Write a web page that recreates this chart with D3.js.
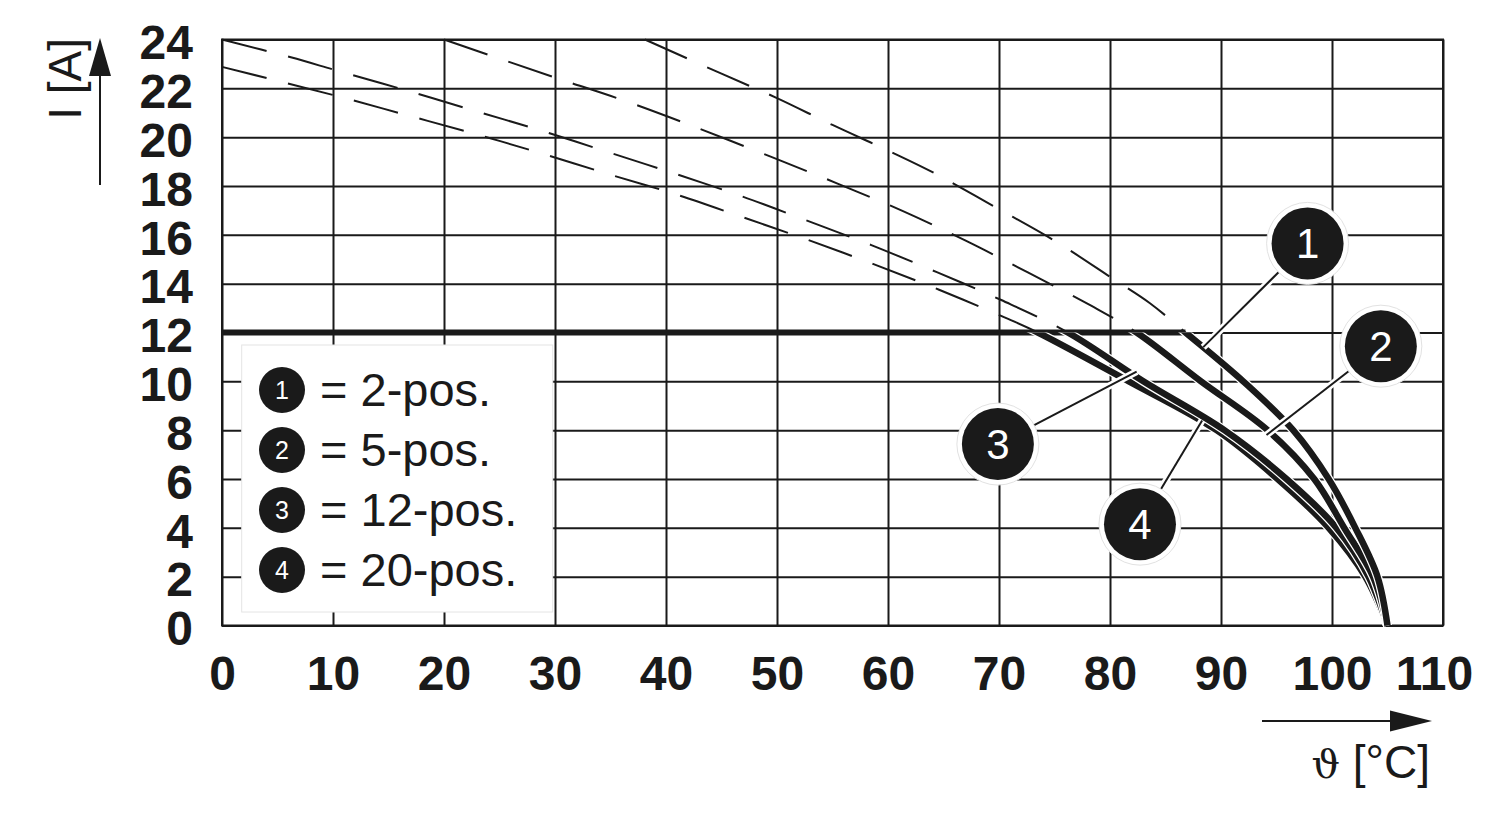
<!DOCTYPE html>
<html><head><meta charset="utf-8">
<script src="https://cdn.jsdelivr.net/npm/d3@7"></script>
<style>html,body{margin:0;padding:0;background:#fff;} svg{display:block;}</style>
</head><body>
<svg id="chart" width="1500" height="820"></svg>
<script>
// ---------- data ----------
const xTicks = [0, 10, 20, 30, 40, 50, 60, 70, 80, 90, 100, 110];
const yTicks = [0, 2, 4, 6, 8, 10, 12, 14, 16, 18, 20, 22, 24];
const ratedCurrent = 12;
const ratedLineEnd = 86.8;

// derating curves: [temperature °C, current A]
const curve1 = [[38.1,24],[45,22.6],[50,21.6],[55,20.5],[60,19.45],[64.2,18.52],[69.6,17.15],[75,15.76],[80.2,14.22],[83.6,13.2],[86.8,12],[92,10],[96.5,8],[99.7,6],[102.1,4],[104.1,2],[105,0]];
const curve2 = [[20,24],[29.8,22.47],[35.9,21.55],[41.8,20.56],[49.6,19.17],[55.4,18.11],[61.3,16.98],[67,15.76],[72.6,14.46],[78.3,13.1],[82.4,12],[88.2,10],[94.2,8],[98.4,6],[101.1,4],[103.7,2],[105,0]];
const curve3 = [[0,24],[6.2,23.27],[10.4,22.72],[16.5,21.93],[22.6,21.1],[28.6,20.29],[34.7,19.4],[40.7,18.52],[46.7,17.6],[52.6,16.6],[58.5,15.58],[64.4,14.47],[70.2,13.33],[76.2,12],[83,10],[90.3,8],[95.9,6],[100.4,4],[103.3,2],[105,0]];
const curve4 = [[0,22.88],[10.4,21.68],[16.5,20.92],[22.6,20.16],[28.6,19.36],[34.8,18.49],[40.8,17.67],[46.8,16.74],[52.8,15.79],[58.7,14.8],[64.6,13.75],[70.5,12.62],[73.5,12],[81.7,10],[89.6,8],[95.1,6],[99.7,4],[103,2],[105,0]];

const seriesIds = ["1", "2", "3", "4"];
const seriesNames = ["2-pos.", "5-pos.", "12-pos.", "20-pos."];
const calloutCircles = [[97.8,15.65],[104.4,11.44],[69.9,7.43],[82.7,4.15]];
const calloutTargets = [[88.4,11.4],[94.1,7.8],[82.4,10.4],[88.3,8.4]];

const yTitle = "I [A]";
const xTitleSymbol = "\u03D1";
const xTitleUnit = " [°C]";

// ---------- layout ----------
const W = 1500, H = 820;
const plot = {left: 222, right: 1443, top: 39.5, bottom: 625.5};
const ink = "#1a1a1a";
const fontFam = "'Liberation Sans', Arial, Helvetica, sans-serif";

const svg = d3.select("#chart");
svg.append("rect").attr("width", W).attr("height", H).attr("fill", "#fff");

const x = d3.scaleLinear().domain([0, 110]).range([plot.left, plot.right]);
const y = d3.scaleLinear().domain([0, 24]).range([plot.bottom, plot.top]);

const defs = svg.append("defs");
defs.append("clipPath").attr("id", "above").append("rect")
  .attr("x", x(0) - 5).attr("y", y(24) - 5)
  .attr("width", x(110) - x(0) + 10).attr("height", y(ratedCurrent) - y(24) + 5);
defs.append("clipPath").attr("id", "below").append("rect")
  .attr("x", x(0) - 5).attr("y", y(ratedCurrent))
  .attr("width", x(110) - x(0) + 40).attr("height", y(0) - y(ratedCurrent) + 10);

// ---------- axes + grid ----------
const gx = svg.append("g").attr("transform", `translate(0,${y(0)})`)
  .call(d3.axisBottom(x).tickValues(xTicks).tickSize(-(y(0) - y(24))).tickPadding(30).tickFormat(d3.format("d")));
const gy = svg.append("g").attr("transform", `translate(${x(0)},0)`)
  .call(d3.axisLeft(y).tickValues(yTicks).tickSize(-(x(110) - x(0))).tickPadding(29).tickFormat(d3.format("d")));
[gx, gy].forEach(g => {
  g.select(".domain").remove();
  g.selectAll(".tick line").attr("stroke", ink).attr("stroke-width", 2);
  g.selectAll(".tick text").attr("fill", ink).attr("font-family", fontFam)
    .attr("font-weight", "bold").attr("font-size", 48);
});
gy.selectAll(".tick text").attr("dy", "0.4em");
gx.selectAll(".tick text").filter(d => d === 110).attr("dx", -9);
// frame
svg.append("rect").attr("x", x(0)).attr("y", y(24))
  .attr("width", x(110) - x(0)).attr("height", y(0) - y(24))
  .attr("fill", "none").attr("stroke", ink).attr("stroke-width", 2);

// ---------- legend box ----------
const lg = svg.append("g");
lg.append("rect").attr("x", 241.7).attr("y", 345).attr("width", 311).attr("height", 267)
  .attr("fill", "#fff").attr("stroke", "#e4e4e4").attr("stroke-width", 1);
seriesIds.forEach((id, i) => {
  const cy = 390 + i * 60;
  lg.append("circle").attr("cx", 282).attr("cy", cy).attr("r", 23).attr("fill", ink);
  lg.append("text").attr("x", 282).attr("y", cy + 9).attr("text-anchor", "middle")
    .attr("font-family", fontFam).attr("font-size", 25).attr("fill", "#fff").text(id);
  lg.append("text").attr("x", 320).attr("y", cy + 16)
    .attr("font-family", fontFam).attr("font-size", 47).attr("fill", ink)
    .text("= " + seriesNames[i]);
});

// ---------- curves ----------
const curves = [curve1, curve2, curve3, curve4];
const line = d3.line().x(d => x(d[0])).y(d => y(d[1])).curve(d3.curveCatmullRom.alpha(0.5));

const dashed = svg.append("g").attr("clip-path", "url(#above)");
curves.forEach(c => {
  dashed.append("path").attr("d", line(c)).attr("fill", "none")
    .attr("stroke", ink).attr("stroke-width", 2).attr("stroke-dasharray", "46,22");
});

// rated current line
svg.append("path").attr("d", d3.line().x(d => x(d[0])).y(d => y(d[1]))([[0, ratedCurrent], [ratedLineEnd, ratedCurrent]]))
  .attr("stroke", ink).attr("stroke-width", 6).attr("fill", "none");

const solid = svg.append("g").attr("clip-path", "url(#below)");
[3, 2, 1, 0].forEach(i => {
  solid.append("path").attr("d", line(curves[i])).attr("fill", "none")
    .attr("stroke", "#fff").attr("stroke-width", 9);
  solid.append("path").attr("d", line(curves[i])).attr("fill", "none")
    .attr("stroke", ink).attr("stroke-width", 6.5);
});

// ---------- callouts ----------
const co = svg.append("g");
calloutCircles.forEach((c, i) => {
  const t = calloutTargets[i];
  co.append("line").attr("x1", x(c[0])).attr("y1", y(c[1])).attr("x2", x(t[0])).attr("y2", y(t[1]))
    .attr("stroke", "#fff").attr("stroke-width", 7);
  co.append("line").attr("x1", x(c[0])).attr("y1", y(c[1])).attr("x2", x(t[0])).attr("y2", y(t[1]))
    .attr("stroke", ink).attr("stroke-width", 2);
});
calloutCircles.forEach((c, i) => {
  co.append("circle").attr("cx", x(c[0])).attr("cy", y(c[1])).attr("r", 41)
    .attr("fill", "#fff").attr("stroke", "#e2e2e2").attr("stroke-width", 1);
  co.append("circle").attr("cx", x(c[0])).attr("cy", y(c[1])).attr("r", 36).attr("fill", ink);
  co.append("text").attr("x", x(c[0])).attr("y", y(c[1]) + 15).attr("text-anchor", "middle")
    .attr("font-family", fontFam).attr("font-size", 42).attr("fill", "#fff").text(seriesIds[i]);
});

// ---------- axis titles & arrows ----------
svg.append("line").attr("x1", 100).attr("y1", 185).attr("x2", 100).attr("y2", 70)
  .attr("stroke", ink).attr("stroke-width", 2);
svg.append("path").attr("d", "M100,38 L89,76 L111,76 Z").attr("fill", ink);
svg.append("text").attr("transform", "translate(81,38) rotate(-90)")
  .attr("text-anchor", "end").attr("font-family", fontFam).attr("font-size", 46)
  .attr("fill", ink).text(yTitle);

svg.append("line").attr("x1", 1262).attr("y1", 721).attr("x2", 1395).attr("y2", 721)
  .attr("stroke", ink).attr("stroke-width", 2);
svg.append("path").attr("d", "M1432,721 L1390,710.5 L1390,731.5 Z").attr("fill", ink);
const xt = svg.append("text").attr("x", 1430).attr("y", 778).attr("text-anchor", "end")
  .attr("font-family", fontFam).attr("font-size", 46).attr("fill", ink);
xt.append("tspan").attr("font-family", "'DejaVu Serif', serif").attr("font-size", 40).text(xTitleSymbol);
xt.append("tspan").text(xTitleUnit);
</script>
</body></html>
